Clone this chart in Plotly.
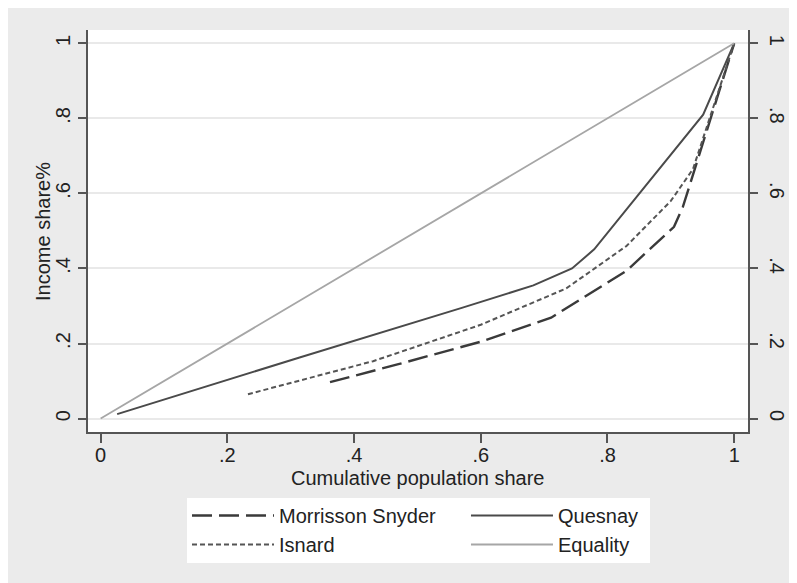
import plotly.graph_objects as go

# Data
morrisson_x = [0.362, 0.47, 0.60, 0.711, 0.83, 0.905, 0.919, 1.0]
morrisson_y = [0.097, 0.145, 0.205, 0.269, 0.394, 0.511, 0.564, 1.0]

quesnay_x = [0.026, 0.314, 0.57, 0.683, 0.744, 0.779, 0.951, 1.0]
quesnay_y = [0.012, 0.163, 0.295, 0.355, 0.400, 0.451, 0.810, 1.0]

isnard_x = [0.2325, 0.43, 0.60, 0.735, 0.83, 0.90, 0.935, 1.0]
isnard_y = [0.065, 0.153, 0.250, 0.347, 0.460, 0.580, 0.665, 1.0]

equality_x = [0.0, 1.0]
equality_y = [0.0, 1.0]

tick_vals = [0, 0.2, 0.4, 0.6, 0.8, 1.0]
tick_text = ["0", ".2", ".4", ".6", ".8", "1"]

FONT = "Liberation Sans, Arial, sans-serif"

fig = go.Figure()
fig.add_trace(go.Scatter(x=morrisson_x, y=morrisson_y, mode="lines", name="Morrisson Snyder",
                         legend="legend",
                         line=dict(color="#3a3a3a", width=2.4, dash="20px,7px")))
fig.add_trace(go.Scatter(x=quesnay_x, y=quesnay_y, mode="lines", name="Quesnay",
                         legend="legend2",
                         line=dict(color="#4a4a4a", width=2)))
fig.add_trace(go.Scatter(x=isnard_x, y=isnard_y, mode="lines", name="Isnard",
                         legend="legend",
                         line=dict(color="#555555", width=2, dash="5px,3px")))
fig.add_trace(go.Scatter(x=equality_x, y=equality_y, mode="lines", name="Equality",
                         legend="legend2",
                         line=dict(color="#a6a6a6", width=1.8)))
fig.add_trace(go.Scatter(x=[None], y=[None], yaxis="y2", showlegend=False, hoverinfo="skip"))

yrange = [-0.0357, 1.0355]
leg_common = dict(orientation="v", yanchor="top", y=-0.1592, xanchor="left",
                  bgcolor="rgba(0,0,0,0)", borderwidth=0, itemwidth=82,
                  font=dict(size=20), traceorder="normal", tracegroupgap=0)

fig.update_layout(
    width=789, height=575,
    margin=dict(l=80, r=49, t=22, b=151, autoexpand=False),
    paper_bgcolor="#ebebeb",
    plot_bgcolor="white",
    font=dict(family=FONT, size=20, color="#222222"),
    xaxis=dict(range=[-0.02, 1.0218], tickvals=tick_vals, ticktext=tick_text,
               showgrid=False, zeroline=False, showline=True, linecolor="#555555", linewidth=1.5,
               ticks="outside", ticklen=9, tickcolor="#555555", tickwidth=1.5,
               ticklabelstandoff=-5, tickfont=dict(size=20), automargin=False),
    yaxis=dict(range=yrange, tickvals=tick_vals, ticktext=tick_text,
               showgrid=True, gridcolor="#e9e9e9", gridwidth=1.5, zeroline=False,
               showline=True, linecolor="#555555", linewidth=1.5,
               ticks="outside", ticklen=8, tickcolor="#555555", tickwidth=1.5,
               tickangle=-90, tickfont=dict(size=20), automargin=False),
    yaxis2=dict(range=yrange, tickvals=tick_vals, ticktext=tick_text, overlaying="y", side="right",
                showgrid=False, zeroline=False, showline=True, linecolor="#555555", linewidth=1.5,
                ticks="outside", ticklen=8, tickcolor="#555555", tickwidth=1.5,
                tickangle=90, tickfont=dict(size=20), ticklabelstandoff=4, automargin=False),
    legend=dict(x=0.15, **leg_common),
    legend2=dict(x=0.5727, **leg_common),
    showlegend=True,
    shapes=[
        dict(type="rect", xref="paper", yref="paper", x0=0.15, x1=0.8515, y0=-0.3259, y1=-0.1642,
             fillcolor="white", line=dict(width=0), layer="below"),
    ],
    annotations=[
        dict(text="Cumulative population share", xref="paper", yref="paper", x=0.5, y=-0.114,
             xanchor="center", yanchor="middle", showarrow=False, font=dict(size=20)),
        dict(text="Income share%", xref="paper", yref="paper", x=-0.0682, y=0.5,
             xanchor="center", yanchor="middle", textangle=-90, showarrow=False,
             font=dict(size=20)),
    ],
)

fig.write_html("out.html")
